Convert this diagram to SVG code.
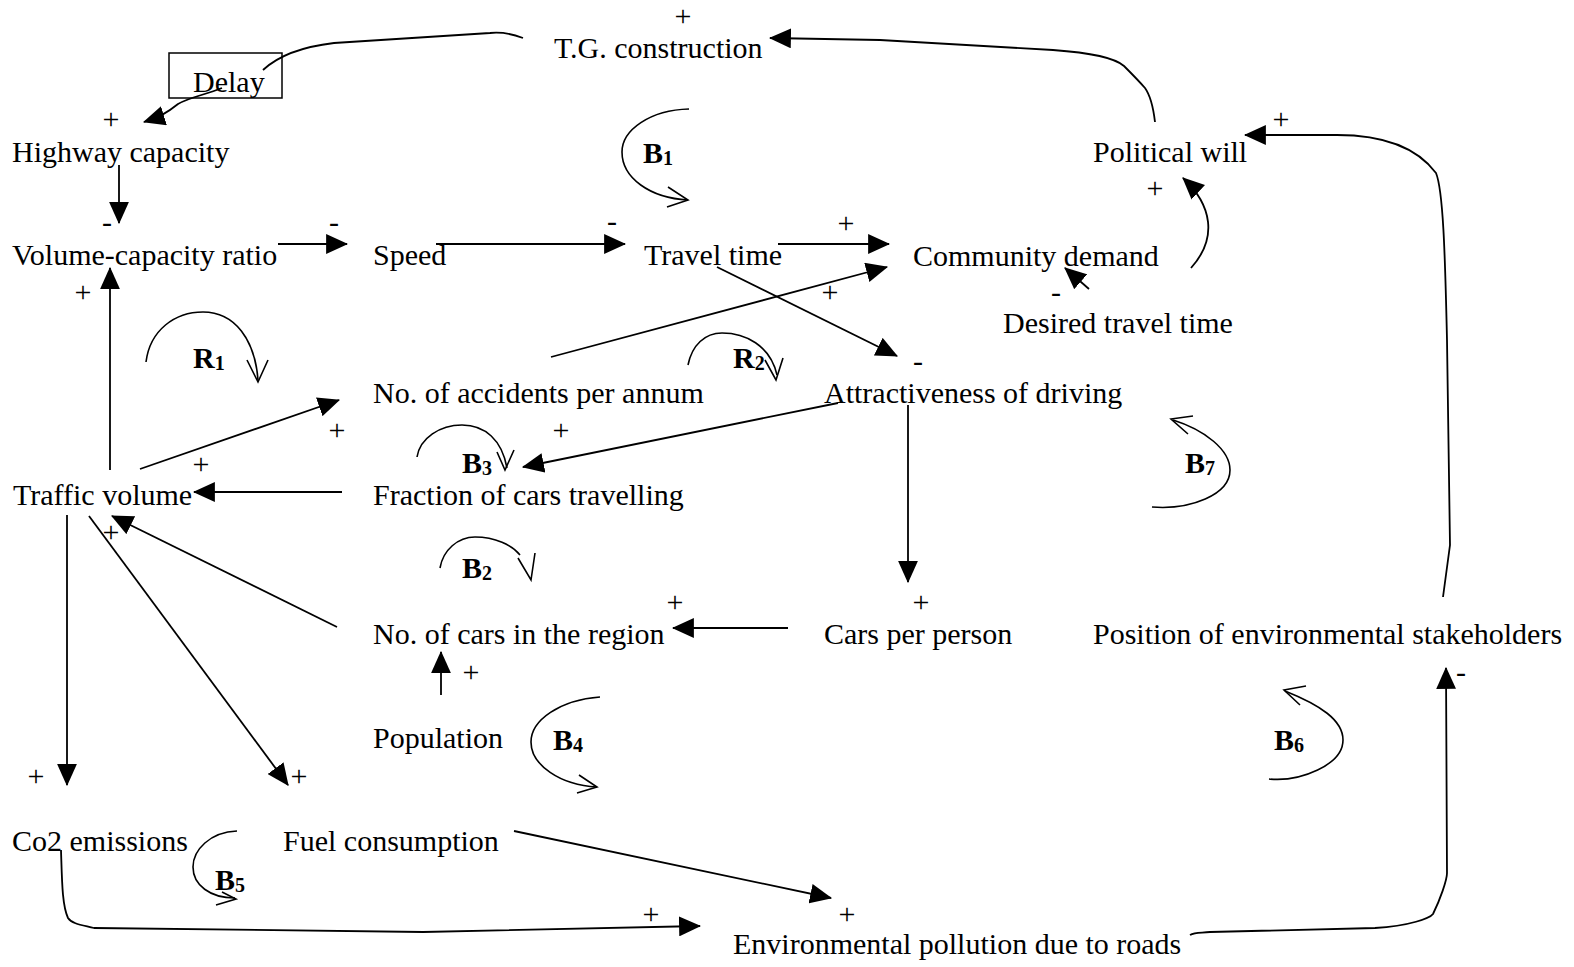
<svg xmlns="http://www.w3.org/2000/svg" width="1574" height="967" viewBox="0 0 1574 967">
<style>
.t{font-family:"Liberation Serif","Times New Roman",serif;font-size:30px;fill:#000}
.s{font-family:"Liberation Serif","Times New Roman",serif;font-size:30px;fill:#000;text-anchor:middle}
.l{font-family:"Liberation Serif","Times New Roman",serif;font-size:30px;font-weight:bold;fill:#000}
.sub{font-size:20px}
.c{fill:none;stroke:#000;stroke-width:1.8}
.a{fill:none;stroke:#000;stroke-width:1.8;marker-end:url(#ah)}
.loop{fill:none;stroke:#000;stroke-width:1.6}
</style>
<defs>
<marker id="ah" markerUnits="userSpaceOnUse" markerWidth="22" markerHeight="20" viewBox="0 0 20 18" refX="19" refY="9" orient="auto">
<path d="M0,0 L20,9 L0,18 Z" fill="#000"/>
</marker>
</defs>
<rect width="1574" height="967" fill="#fff"/>

<g id="connectors">
<path class="c" d="M523,38 C510,33 500,32 490,33 L334,43 C300,47 278,56 263,70"/>
<path class="a" d="M222,88 C205,95 190,97 178,104 C168,112 160,117 144,122"/>
<path class="a" d="M119,165 L119,223"/>
<path class="a" d="M110,470 L110,268"/>
<path class="a" d="M278,244 L347,244"/>
<path class="a" d="M436,244 L625,244"/>
<path class="a" d="M778,244 L889,244"/>
<path class="a" d="M551,357 L887,267"/>
<path class="a" d="M717,267 L897,356"/>
<path class="a" d="M1089,289 L1065,268"/>
<path class="a" d="M1191,268 C1218,238 1212,205 1183,178"/>
<path class="a" d="M1155,122 C1153,105 1150,95 1145,88 C1138,80 1130,72 1124,66 C1115,58 1095,53 1053,50 L880,40 L770,38"/>
<path class="a" d="M1443,597 L1450,545 L1447,340 C1445,250 1443,190 1436,173 C1415,145 1380,135 1337,135 L1245,135"/>
<path class="a" d="M838,403 L523,467"/>
<path class="a" d="M908,405 L908,582"/>
<path class="a" d="M140,469 L339,400"/>
<path class="a" d="M342,492 L194,492"/>
<path class="a" d="M337,627 L112,516"/>
<path class="a" d="M89,516 L288,785"/>
<path class="a" d="M67,515 L67,785"/>
<path class="a" d="M788,628 L673,628"/>
<path class="a" d="M441,695 L441,652"/>
<path class="a" d="M514,831 L831,898"/>
<path class="a" d="M61,850 C62,880 62,905 68,918 C72,924 82,925 94,928 L423,932 L700,926"/>
<path class="a" d="M1190,935 C1195,932 1200,933 1210,932 L1375,928 C1410,926 1430,918 1433,914 C1440,900 1447,880 1447,873 L1446,668"/>
</g>

<g id="loops">
<path class="loop" d="M689,109 C650,110 622,130 622,152 C622,178 650,198 688,200"/>
<path class="loop" d="M668,187 L688,200 L667,207"/>
<path class="loop" d="M146,362 C150,330 175,312 203,312 C235,312 255,340 258,380"/>
<path class="loop" d="M247,360 L258,382 L268,360"/>
<path class="loop" d="M688,365 C692,345 705,333 722,333 C745,333 770,345 777,375"/>
<path class="loop" d="M765,360 L776,380 L783,358"/>
<path class="loop" d="M417,457 C420,438 440,425 462,425 C485,425 502,440 507,468"/>
<path class="loop" d="M497,452 L505,470 L514,450"/>
<path class="loop" d="M440,568 C443,550 458,537 475,537 C495,537 512,545 520,555"/>
<path class="loop" d="M518,558 L531,580 L535,553"/>
<path class="loop" d="M600,697 C560,700 531,720 531,742 C531,765 560,785 597,787"/>
<path class="loop" d="M579,775 L597,787 L577,793"/>
<path class="loop" d="M237,831 C210,832 193,850 193,867 C193,885 210,898 235,898"/>
<path class="loop" d="M222,892 L236,899 L216,905"/>
<path class="loop" d="M1173,420 C1205,430 1230,450 1230,470 C1230,495 1190,510 1152,507"/>
<path class="loop" d="M1193,416 L1171,419 L1188,434"/>
<path class="loop" d="M1285,691 C1320,705 1343,720 1343,740 C1343,765 1300,782 1269,779"/>
<path class="loop" d="M1306,686 L1284,690 L1300,705"/>
<text class="l" x="643" y="163">B<tspan class="sub" dy="2">1</tspan></text>
<text class="l" x="193" y="368">R<tspan class="sub" dy="2">1</tspan></text>
<text class="l" x="733" y="368">R<tspan class="sub" dy="2">2</tspan></text>
<text class="l" x="462" y="473">B<tspan class="sub" dy="2">3</tspan></text>
<text class="l" x="1185" y="473">B<tspan class="sub" dy="2">7</tspan></text>
<text class="l" x="462" y="578">B<tspan class="sub" dy="2">2</tspan></text>
<text class="l" x="553" y="750">B<tspan class="sub" dy="2">4</tspan></text>
<text class="l" x="1274" y="750">B<tspan class="sub" dy="2">6</tspan></text>
<text class="l" x="215" y="890">B<tspan class="sub" dy="2">5</tspan></text>
</g>

<g id="polarity">
<text class="s" x="683" y="26">+</text>
<text class="s" x="111" y="129">+</text>
<text class="s" x="846" y="233">+</text>
<text class="s" x="1281" y="129">+</text>
<text class="s" x="1155" y="198">+</text>
<text class="s" x="83" y="302">+</text>
<text class="s" x="830" y="302">+</text>
<text class="s" x="337" y="440">+</text>
<text class="s" x="561" y="440">+</text>
<text class="s" x="201" y="474">+</text>
<text class="s" x="111" y="542">+</text>
<text class="s" x="675" y="612">+</text>
<text class="s" x="921" y="612">+</text>
<text class="s" x="471" y="682">+</text>
<text class="s" x="36" y="786">+</text>
<text class="s" x="299" y="786">+</text>
<text class="s" x="651" y="924">+</text>
<text class="s" x="847" y="924">+</text>
<text class="s" x="107" y="232">-</text>
<text class="s" x="334" y="232">-</text>
<text class="s" x="612" y="231">-</text>
<text class="s" x="1056" y="302">-</text>
<text class="s" x="918" y="371">-</text>
<text class="s" x="1461" y="682">-</text>
</g>

<g id="n-tg"><text class="t" x="554" y="58">T.G. construction</text></g>
<g id="n-delay"><rect x="169" y="53" width="113" height="45" fill="none" stroke="#000" stroke-width="1.5"/><text class="t" x="193" y="92">Delay</text></g>
<g id="n-highway"><text class="t" x="12" y="162">Highway capacity</text></g>
<g id="n-political"><text class="t" x="1093" y="162">Political will</text></g>
<g id="n-vc"><text class="t" x="12" y="265">Volume-capacity ratio</text></g>
<g id="n-speed"><text class="t" x="373" y="265">Speed</text></g>
<g id="n-travel"><text class="t" x="644" y="265">Travel time</text></g>
<g id="n-community"><text class="t" x="913" y="266">Community demand</text></g>
<g id="n-desired"><text class="t" x="1003" y="333">Desired travel time</text></g>
<g id="n-accidents"><text class="t" x="373" y="403">No. of accidents per annum</text></g>
<g id="n-attract"><text class="t" x="824" y="403">Attractiveness of driving</text></g>
<g id="n-traffic"><text class="t" x="13" y="505">Traffic volume</text></g>
<g id="n-fraction"><text class="t" x="373" y="505">Fraction of cars travelling</text></g>
<g id="n-cars"><text class="t" x="373" y="644">No. of cars in the region</text></g>
<g id="n-cpp"><text class="t" x="824" y="644">Cars per person</text></g>
<g id="n-position"><text class="t" x="1093" y="644">Position of environmental stakeholders</text></g>
<g id="n-population"><text class="t" x="373" y="748">Population</text></g>
<g id="n-co2"><text class="t" x="12" y="851">Co2 emissions</text></g>
<g id="n-fuel"><text class="t" x="283" y="851">Fuel consumption</text></g>
<g id="n-pollution"><text class="t" x="733" y="954">Environmental pollution due to roads</text></g>
</svg>
